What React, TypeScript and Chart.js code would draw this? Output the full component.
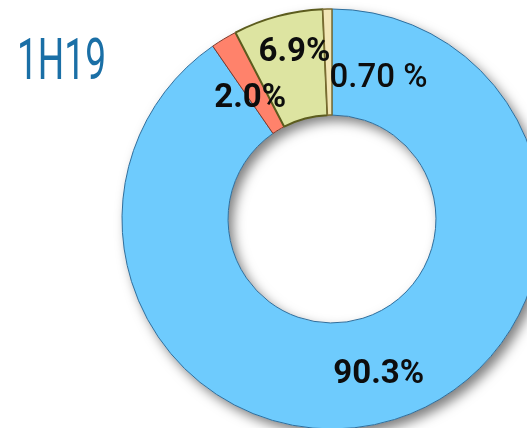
import React, { useEffect, useRef } from "react";
import { Chart, registerables } from "chart.js";

Chart.register(...registerables);

const title = "1H19";
const categories = ["A", "B", "C", "D"];
const values = [90.3, 2.0, 6.9, 0.7];
const valueLabels = ["90.3%", "2.0%", "6.9%", "0.70 %"];
const labelWeights = ["700", "700", "700", "500"];
const labelOffsets: [number, number][] = [
  [0, 6],
  [-1, 14],
  [3, -15],
  [50, 17],
];
const fillColors = ["#6ECBFD", "#FF826B", "#DDE4A1", "#F2E6B6"];
const borderColors = ["#2F6E9C", "#7E3A2C", "#5C5C1E", "#7A6C32"];
const borderWidths = [1, 1, 2, 1.5];

const shadowPlugin = {
  id: "ringShadow",
  beforeDatasetsDraw(chart: any) {
    const meta = chart.getDatasetMeta(0);
    const arc = meta.data[0];
    if (!arc) return;
    const { x, y, innerRadius, outerRadius } = arc.getProps(
      ["x", "y", "innerRadius", "outerRadius"],
      true
    );
    const ctx = chart.ctx;
    ctx.save();
    ctx.shadowColor = "rgba(0,0,0,0.5)";
    ctx.shadowBlur = 12;
    ctx.shadowOffsetX = 5;
    ctx.shadowOffsetY = 6;
    ctx.beginPath();
    ctx.arc(x, y, outerRadius, 0, Math.PI * 2);
    ctx.arc(x, y, innerRadius, 0, Math.PI * 2, true);
    ctx.closePath();
    ctx.fillStyle = "#ffffff";
    ctx.fill();
    ctx.restore();
  },
};

const labelPlugin = {
  id: "sliceLabels",
  afterDatasetsDraw(chart: any) {
    const meta = chart.getDatasetMeta(0);
    const ctx = chart.ctx;
    ctx.save();
    ctx.textAlign = "center";
    ctx.textBaseline = "middle";
    ctx.fillStyle = "#0d0d0d";
    meta.data.forEach((el: any, i: number) => {
      const p = el.tooltipPosition(true);
      ctx.font = `${labelWeights[i]} 33px Roboto, "Noto Sans", sans-serif`;
      ctx.fillText(valueLabels[i], p.x + labelOffsets[i][0], p.y + labelOffsets[i][1]);
    });
    ctx.restore();
  },
};

export default function App() {
  const ref = useRef<HTMLCanvasElement>(null);
  useEffect(() => {
    if (!ref.current) return;
    const chart = new Chart(ref.current, {
      type: "doughnut",
      data: {
        labels: categories,
        datasets: [
          {
            data: values,
            backgroundColor: fillColors,
            borderColor: borderColors,
            borderWidth: borderWidths,
            hoverOffset: 0,
          },
        ],
      },
      options: {
        responsive: false,
        animation: false,
        cutout: "49.5%",
        layout: { padding: { left: 121, right: 121, top: 8, bottom: 10 } },
        plugins: {
          legend: { display: false },
          tooltip: { enabled: false },
        },
      },
      plugins: [shadowPlugin, labelPlugin],
    });
    return () => chart.destroy();
  }, []);

  return (
    <div
      style={{
        position: "fixed",
        left: 0,
        top: 0,
        width: 527,
        height: 428,
        overflow: "hidden",
        background: "#ffffff",
      }}
    >
      <canvas
        ref={ref}
        width={664}
        height={440}
        style={{ position: "absolute", left: 0, top: 0, display: "block" }}
      />
      <div
        style={{
          position: "absolute",
          left: 17,
          top: 27,
          fontFamily: "Roboto, sans-serif",
          fontWeight: 400,
          fontSize: 58,
          lineHeight: "64px",
          color: "#1A6FA6",
          transform: "scaleX(0.64)",
          transformOrigin: "left top",
          whiteSpace: "nowrap",
        }}
      >
        {title}
      </div>
    </div>
  );
}
